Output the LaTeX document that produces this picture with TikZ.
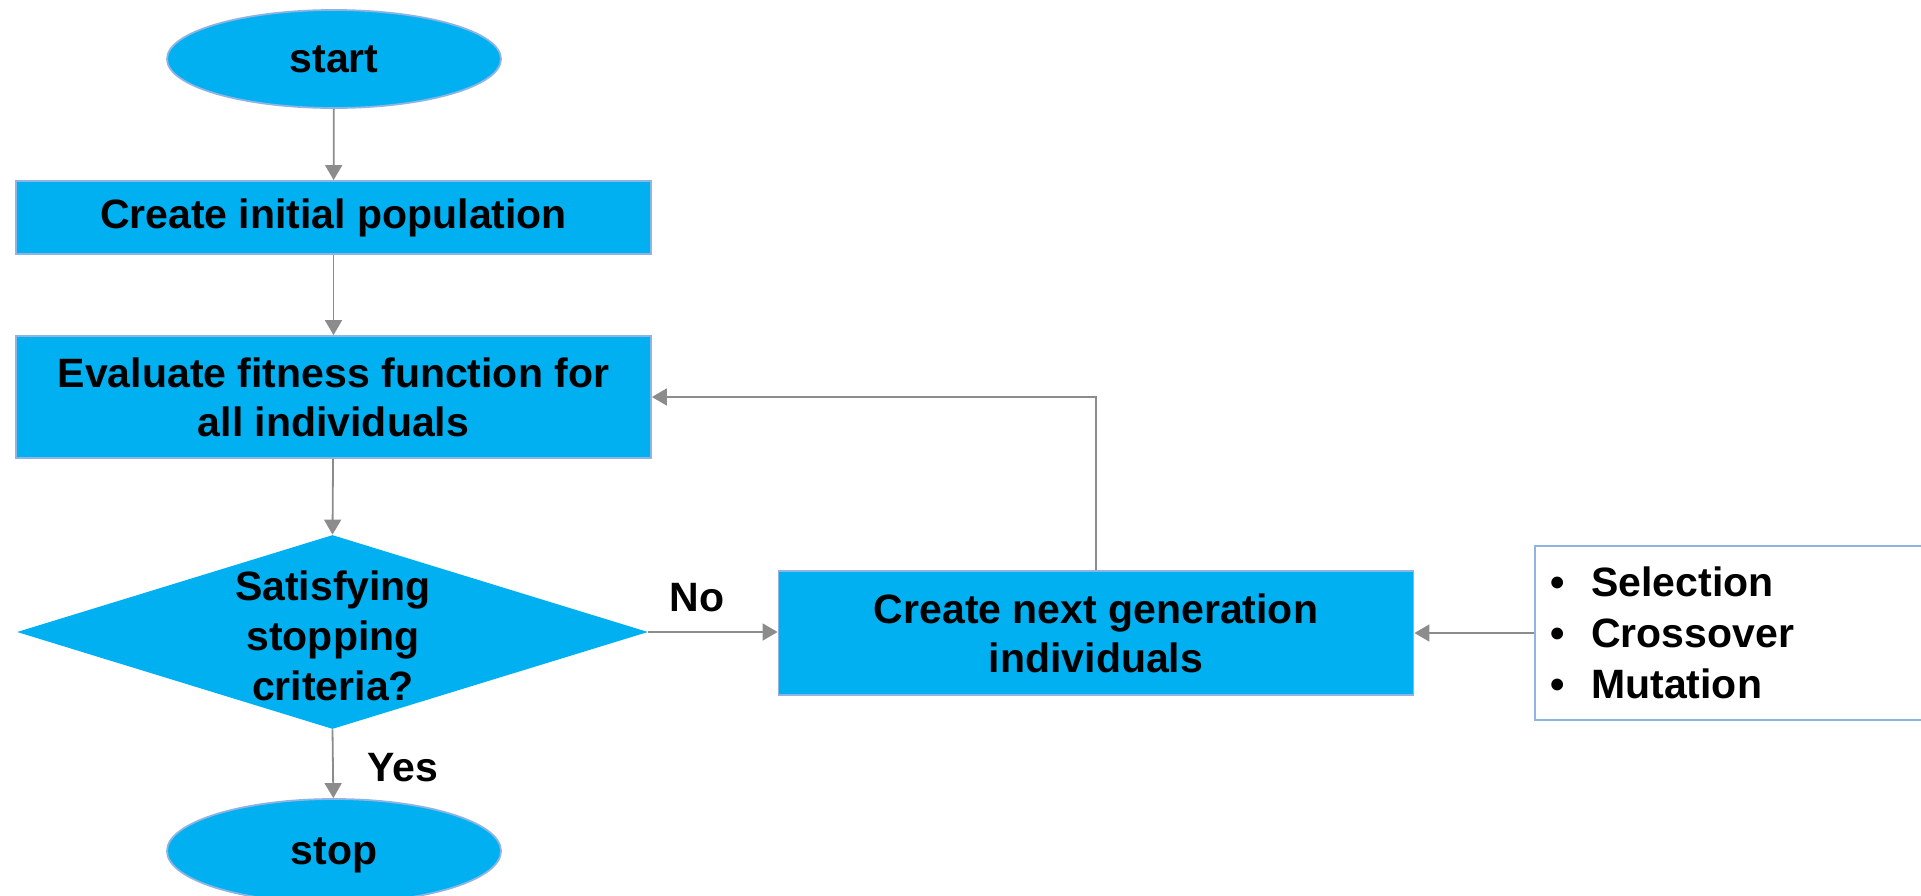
\documentclass[tikz,border=0pt]{standalone}
\usepackage{fontspec}
\setmainfont{Liberation Sans}
\usetikzlibrary{shapes.geometric,arrows.meta}
\definecolor{boxfill}{HTML}{00B0F0}
\definecolor{boxline}{HTML}{8EB4E3}
\definecolor{arrowgray}{HTML}{8C8C8C}
\begin{document}
\begin{tikzpicture}[x=0.5pt,y=-0.5pt,
  every node/.style={font=\fontsize{20.5pt}{24.5pt}\selectfont\bfseries},
  flowbox/.style={draw=boxline,line width=0.9pt,fill=boxfill,rectangle,align=center,inner sep=0pt,minimum width=317.5pt},
  terminal/.style={draw=boxline,line width=0.9pt,fill=boxfill,ellipse,inner sep=0pt,text depth=0pt,minimum width=167pt},
  decision/.style={draw=none,fill=boxfill,diamond,inner sep=0pt,minimum width=315.5pt,minimum height=97pt},
  flow/.style={draw=arrowgray,line width=0.9pt,-{Triangle[length=7.5pt,width=8.5pt]}},
  plain/.style={inner sep=0pt}]
\useasboundingbox (0,0) rectangle (1921,895);

% main column
\node[terminal,minimum height=49pt] (start) at (334,59) {start};
\node[flowbox,minimum height=36.5pt] (init) at (333.5,217.5) {Create initial population};
\node[flowbox,minimum height=61pt] (eval) at (333.5,397) {Evaluate fitness function for\\all individuals};
\node[decision] (check) at (332.5,632) {};
\node[plain,align=center,font=\fontsize{20.5pt}{25pt}\selectfont\bfseries] (checktext) at (333,636) {Satisfying\\stopping\\criteria?};
\node[terminal,minimum height=52pt] (stop) at (334,851) {stop};

% side branch
\node[flowbox,minimum height=62pt] (next) at (1096,633) {Create next generation\\individuals};
\node[draw=boxline,line width=0.9pt,fill=white,rectangle,anchor=west,minimum width=200pt,minimum height=87pt,
      inner xsep=8pt,text width=184pt,align=left,font=\fontsize{20.5pt}{25.5pt}\selectfont\bfseries] (ops) at (1534,633)
  {\textbullet\hspace{13pt}Selection\\\textbullet\hspace{13pt}Crossover\\\textbullet\hspace{13pt}Mutation};

% connectors
\draw[flow] (start) -- (init);
\draw[flow] (init) -- (eval);
\draw[flow] (eval) -- (check.north);
\draw[flow] (check.south) -- (stop);
\draw[flow] (check.east) -- (check.east -| next.west);
\draw[flow] (ops.west) -- (next.east);
\draw[flow] (next.north) |- (eval.east);

% branch labels
\node[plain] (nolabel) at (697,598) {No};
\node[plain] (yeslabel) at (403,768) {Yes};
\end{tikzpicture}
\end{document}
